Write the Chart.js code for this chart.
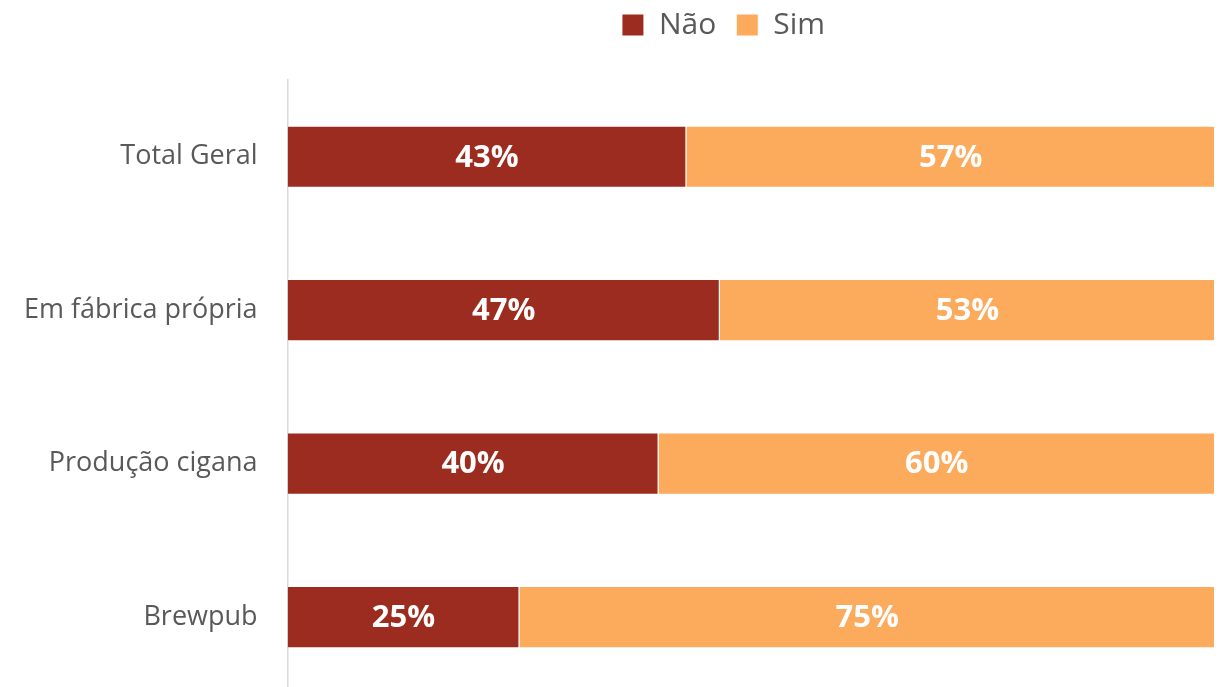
<!DOCTYPE html>
<html>
<head>
<meta charset="utf-8">
<script src="https://cdn.jsdelivr.net/npm/chart.js@4/dist/chart.umd.min.js"></script>
<style>
  html, body { margin: 0; padding: 0; background: #fff; overflow: hidden; }
  canvas { display: block; }
</style>
</head>
<body>
<canvas id="grafico" width="1222" height="732"></canvas>
<script>
const categorias = ['Total Geral', 'Em fábrica própria', 'Produção cigana', 'Brewpub'];
const nao = [43, 46.6, 40, 25];
const sim = [57, 53.4, 60, 75];

const fonte = "'Open Sans', 'Noto Sans', sans-serif";

// rotulos brancos no meio de cada barra
const rotulos = {
  id: 'rotulos',
  afterDatasetsDraw(chart) {
    const c = chart.ctx;
    c.save();
    c.fillStyle = '#fff';
    c.font = 'bold 31px ' + fonte;
    c.textAlign = 'center';
    c.textBaseline = 'middle';
    chart.data.datasets.forEach((ds, i) => {
      chart.getDatasetMeta(i).data.forEach((bar, j) => {
        c.fillText(Math.round(ds.data[j]) + '%', (bar.x + bar.base) / 2, bar.y + 1);
      });
    });
    c.restore();
  }
};

// espaco abaixo da legenda e deslocamento para a direita
const ajusteLegenda = {
  id: 'ajusteLegenda',
  beforeInit(chart) {
    const fit = chart.legend.fit;
    chart.legend.fit = function () {
      fit.call(this);
      this.height += 30;
    };
  },
  afterLayout(chart) {
    chart.legend.left += 115;
    chart.legend.right += 115;
  }
};

new Chart(document.getElementById('grafico'), {
  type: 'bar',
  data: {
    labels: categorias,
    datasets: [
      { label: 'Não', data: nao, backgroundColor: '#9C2C1F', borderColor: '#fff', borderWidth: 1 },
      { label: 'Sim', data: sim, backgroundColor: '#FCAA5C', borderColor: '#fff', borderWidth: 1 }
    ]
  },
  options: {
    indexAxis: 'y',
    responsive: false,
    animation: false,
    layout: { padding: { top: -10, right: 7, bottom: 1, left: 2 } },
    datasets: { bar: { barPercentage: 0.81, categoryPercentage: 0.5 } },
    plugins: {
      legend: {
        position: 'top',
        labels: {
          boxWidth: 22,
          boxHeight: 22,
          padding: 20,
          color: '#595959',
          font: { family: fonte, size: 30 }
        }
      },
      tooltip: { enabled: false }
    },
    scales: {
      x: { stacked: true, min: 0, max: 100, display: false },
      y: {
        stacked: true,
        grid: { display: false },
        border: { color: '#d9d9d9', width: 1.5 },
        ticks: {
          padding: 22,
          color: '#595959',
          font: { family: fonte, size: 27 }
        }
      }
    }
  },
  plugins: [rotulos, ajusteLegenda]
});
</script>
</body>
</html>
